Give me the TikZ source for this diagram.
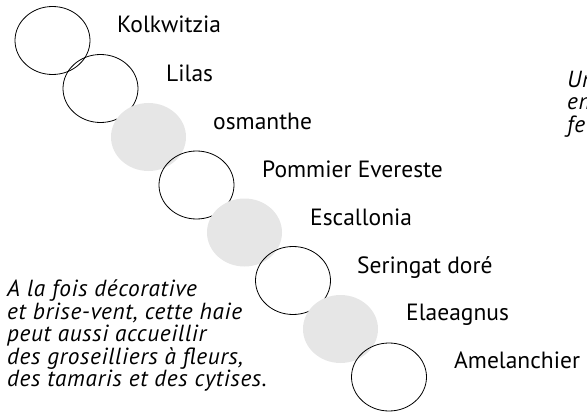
\documentclass[tikz,border=0pt]{standalone}
\usepackage{fontspec}
\setmainfont{PT Sans}
\newfontfamily\hedgenotefamily{PT Sans}[LetterSpace=2.8]
\definecolor{hedgegray}{HTML}{E6E6E6}
\newcommand\hedgenotefont{\hedgenotefamily\fontsize{23.3}{22.5}\selectfont\itshape\setlength{\lineskiplimit}{-50pt}\setlength{\lineskip}{0pt}}
\begin{document}
\begin{tikzpicture}[x=1pt,y=-1pt,
  shrub/.style={draw=black,line width=0.8pt},
  shrubgray/.style={fill=hedgegray},
  lbl/.style={anchor=base west,inner sep=0pt,font=\fontsize{23.5}{24}\selectfont},
  note/.style={anchor=base west,inner sep=0pt,align=left,font=\hedgenotefont}]
\useasboundingbox (0,0) rectangle (587,420);
% shrubs along the diagonal
\draw[shrub] (52.5,40.5) ellipse [x radius=37.5,y radius=34];
\draw[shrub] (100.5,88.5) ellipse [x radius=37.5,y radius=34];
\fill[shrubgray] (148.5,137) ellipse [x radius=37.5,y radius=34];
\draw[shrub] (196.5,185) ellipse [x radius=37.5,y radius=34];
\fill[shrubgray] (244.5,232.5) ellipse [x radius=37.5,y radius=34];
\draw[shrub] (293,280.5) ellipse [x radius=37.5,y radius=34];
\fill[shrubgray] (340.5,329) ellipse [x radius=37.5,y radius=34];
\draw[shrub] (389,377) ellipse [x radius=37.5,y radius=34];
% labels
\node[lbl] (l1) at (117,33) {Kolkwitzia};
\node[lbl] (l2) at (166,82) {Lilas};
\node[lbl] (l3) at (213,129.5) {osmanthe};
\node[lbl] (l4) at (262,177.5) {Pommier Evereste};
\node[lbl] (l5) at (310,225) {Escallonia};
\node[lbl] (l6) at (357,273) {Seringat doré};
\node[lbl] (l7) at (406,320) {Elaeagnus};
\node[lbl] (l8) at (454,368) {Amelanchier};
% notes (base = baseline of last line)
\node[note] (n1) at (7,386.7) {A la fois décorative\\et brise-vent, cette haie\\peut aussi accueillir\\des groseilliers à fleurs,\\des tamaris et des cytises.};
\node[note] (n2) at (567,132) {Un\\en\\fe};
\end{tikzpicture}
\end{document}
